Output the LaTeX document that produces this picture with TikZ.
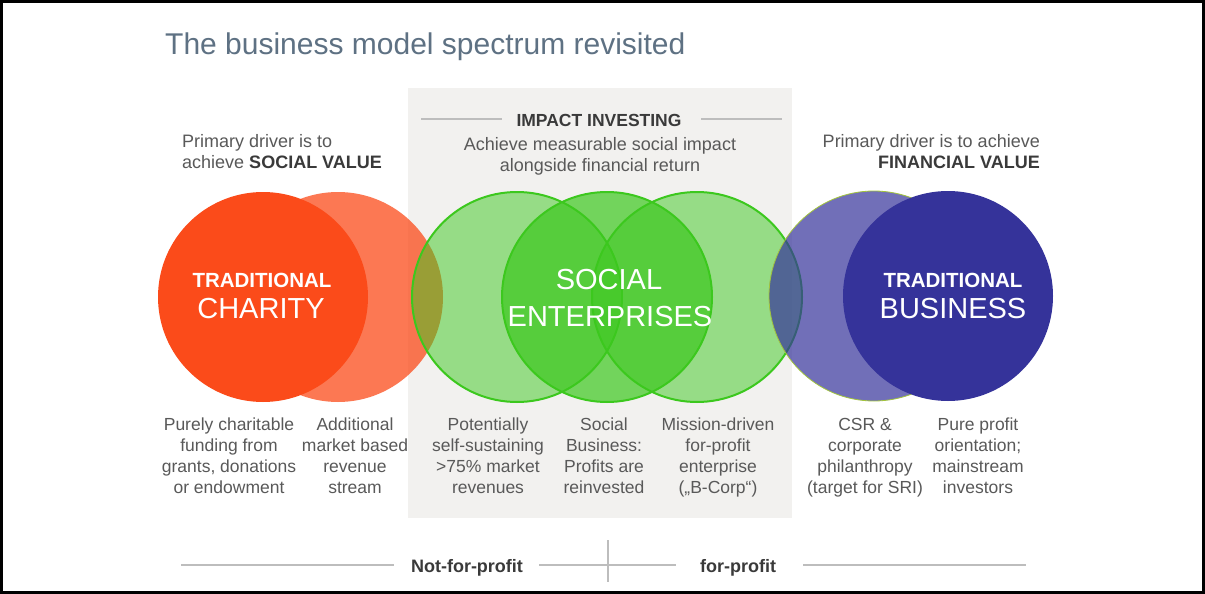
\documentclass[tikz,border=0pt]{standalone}
\usepackage{fontspec}
\setmainfont{Liberation Sans}
\usetikzlibrary{positioning}
\definecolor{bmtitle}{HTML}{5E7183}
\definecolor{bmtext}{HTML}{595959}
\definecolor{bmdark}{HTML}{3A3A3A}
\definecolor{bmpanel}{HTML}{F2F1EF}
\definecolor{bmrule}{HTML}{BDBDBD}
\definecolor{bmred}{HTML}{FB4B1A}
\definecolor{bmgreen}{HTML}{3CC81E}
\definecolor{bmblue}{HTML}{35339A}
\definecolor{bmrim}{HTML}{A2C43C}

\tikzset{
  bubble/.style={circle, inner sep=0pt, minimum size=210pt},
  caption/.style={anchor=north, align=center, inner sep=0pt, font=\fontsize{17.5}{21}\selectfont, text=bmtext},
  tagline/.style={anchor=base, inner sep=0pt, font=\bfseries\fontsize{20.5}{24}\selectfont, text=white},
  bigname/.style={anchor=base, inner sep=0pt, font=\fontsize{29}{34}\selectfont, text=white},
}

\begin{document}
\begin{tikzpicture}[x=1pt,y=-1pt]
  \useasboundingbox (0,0) rectangle (1205,594);
  \fill[white] (0,0) rectangle (1205,594);
  \fill[bmpanel] (408,88) rectangle (792,518);

  \node[anchor=base west, inner sep=0pt, font=\fontsize{30}{36}\selectfont, text=bmtitle] (title) at (165,55) {The business model spectrum revisited};

  % circles, back to front
  \node[bubble, fill=bmred, fill opacity=0.75] (charitymkt) at (338,297) {};
  \node[bubble, fill=bmred] (charity) at (263,297) {};
  \foreach \cx/\nm/\op in {517/sea/0.5, 607/seb/0.7, 697/sec/0.5}
    \node[bubble, fill=bmgreen, fill opacity=\op, draw=bmgreen, line width=2pt] (\nm) at (\cx,297) {};
  \node[bubble, fill=bmblue, fill opacity=0.7, draw=bmrim, line width=0.8pt] (csr) at (874,296) {};
  \node[bubble, fill=bmblue] (business) at (948,296) {};

  \node[tagline] (charitytag) at (262,287) {TRADITIONAL};
  \node[bigname] (charityname) at (261,318) {CHARITY};
  \node[bigname] (socialname) at (609,289) {SOCIAL};
  \node[bigname] (entername) at (610,326) {ENTERPRISES};
  \node[tagline] (businesstag) at (953,287) {TRADITIONAL};
  \node[bigname] (businessname) at (953,318) {BUSINESS};

  % drivers and impact investing header
  \node[anchor=north west, align=left, inner sep=0pt, font=\fontsize{18}{21}\selectfont, text=bmtext] (socialdriver) at (182,134) {Primary driver is to\\achieve \textbf{\textcolor{bmdark}{SOCIAL VALUE}}};
  \node[anchor=north east, align=right, inner sep=0pt, font=\fontsize{18}{21}\selectfont, text=bmtext] (financedriver) at (1040,134) {Primary driver is to achieve\\\textbf{\textcolor{bmdark}{FINANCIAL VALUE}}};
  \node[anchor=base, inner sep=0pt, font=\bfseries\fontsize{17.5}{21}\selectfont, text=bmdark] (impact) at (599,126.5) {IMPACT INVESTING};
  \draw[bmrule, line width=1.2pt] (421,119) -- (502,119);
  \draw[bmrule, line width=1.2pt] (701,119) -- (782,119);
  \node[anchor=north, align=center, inner sep=0pt, font=\fontsize{18}{21}\selectfont, text=bmtext] (impactaim) at (600,137) {Achieve measurable social impact\\alongside financial return};

  % captions under the circles
  \node[caption] (grants) at (229,418) {Purely charitable\\funding from\\grants, donations\\or endowment};
  \node[caption] (market) at (355,418) {Additional\\market based\\revenue\\stream};
  \node[caption] (selfsust) at (488,418) {Potentially\\self-sustaining\\>75\% market\\revenues};
  \node[caption] (socbiz) at (604,418) {Social\\Business:\\Profits are\\reinvested};
  \node[caption] (bcorp) at (718,418) {Mission-driven\\for-profit\\enterprise\\(„B-Corp“)};
  \node[caption] (csrtext) at (865,418) {CSR \&\\corporate\\philanthropy\\(target for SRI)};
  \node[caption] (pureprofit) at (978,418) {Pure profit\\orientation;\\mainstream\\investors};

  % profit axis
  \draw[bmrule, line width=1.2pt] (181,565) -- (394,565);
  \draw[bmrule, line width=1.2pt] (539,565) -- (676,565);
  \draw[bmrule, line width=1.2pt] (803,565) -- (1026,565);
  \draw[bmrule, line width=1.2pt] (608,540) -- (608,582);
  \node[anchor=base, inner sep=0pt, font=\bfseries\fontsize{18}{21}\selectfont, text=bmdark] (nonprofit) at (467,572) {Not-for-profit};
  \node[anchor=base, inner sep=0pt, font=\bfseries\fontsize{18}{21}\selectfont, text=bmdark] (forprofit) at (738,572) {for-profit};

  \draw[black, line width=3pt] (1.5,1.5) rectangle (1203.5,592.5);
\end{tikzpicture}
\end{document}
